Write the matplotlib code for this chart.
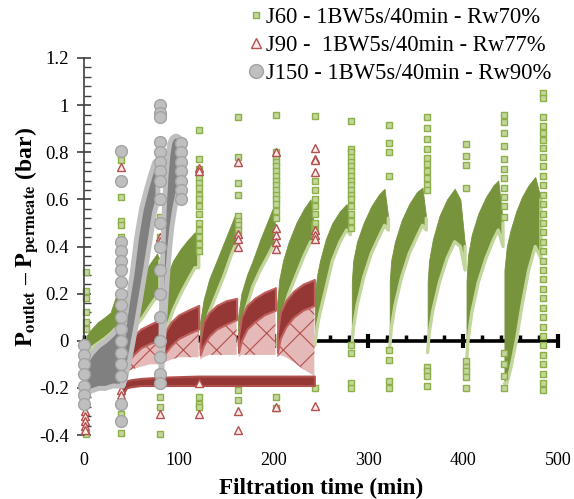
import matplotlib
matplotlib.use("Agg")
import matplotlib.pyplot as plt
from matplotlib.lines import Line2D
from matplotlib.ticker import MultipleLocator, FixedLocator, NullFormatter

plt.rcParams['font.family'] = ['Liberation Serif', 'DejaVu Serif']
plt.rcParams['mathtext.fontset'] = 'stix'
plt.rcParams['hatch.linewidth'] = 0.8

# ---------------- J60 (squares) ----------------
# filtration cycles: time points, lower and upper envelope of the dense cloud
j60_band_t = [
    [2.5, 8, 15, 22, 28, 33, 38, 40],
    [41.5, 44, 48, 54, 62, 70, 77, 80],
    [81.5, 84, 88, 94, 102, 110, 117, 121],
    [122.5, 126, 132, 140, 148, 155, 159, 161.5],
    [162.5, 166, 172, 178, 186, 194, 199, 202],
    [203.5, 206, 210, 216, 224, 232, 239, 242],
    [243.5, 246, 249, 255, 262, 270, 277, 281],
    [282.5, 284, 288, 295, 303, 311, 317, 321],
    [322.5, 324, 328, 335, 343, 351, 357, 361],
    [362.5, 364, 368, 375, 383, 391, 397, 402],
    [403.5, 405, 409, 416, 424, 432, 437, 442],
    [443.5, 446, 450, 456, 462, 469, 476, 482],
]
j60_band_lo = [
    [-0.05, -0.03, -0.01, 0.01, 0.03, 0.05, 0.06, 0.05],
    [-0.06, -0.02, 0.02, 0.06, 0.10, 0.15, 0.19, 0.19],
    [-0.05, 0.00, 0.06, 0.13, 0.20, 0.26, 0.31, 0.31],
    [-0.03, 0.03, 0.12, 0.20, 0.28, 0.36, 0.40, 0.40],
    [-0.02, 0.06, 0.15, 0.23, 0.30, 0.36, 0.40, 0.40],
    [-0.02, 0.05, 0.12, 0.20, 0.28, 0.36, 0.42, 0.42],
    [-0.02, 0.06, 0.12, 0.22, 0.34, 0.42, 0.47, 0.45],
    [-0.03, 0.05, 0.15, 0.27, 0.37, 0.44, 0.49, 0.47],
    [-0.03, 0.05, 0.15, 0.27, 0.37, 0.44, 0.49, 0.47],
    [-0.05, 0.03, 0.13, 0.25, 0.35, 0.42, 0.40, 0.30],
    [-0.10, 0.00, 0.12, 0.25, 0.35, 0.43, 0.47, 0.40],
    [-0.18, -0.18, -0.12, 0.00, 0.15, 0.30, 0.40, 0.35],
]
j60_band_hi = [
    [0.02, 0.05, 0.08, 0.10, 0.12, 0.18, 0.22, 0.20],
    [0.04, 0.12, 0.18, 0.23, 0.28, 0.33, 0.37, 0.34],
    [0.08, 0.20, 0.28, 0.34, 0.39, 0.43, 0.46, 0.42],
    [0.08, 0.17, 0.26, 0.34, 0.42, 0.49, 0.53, 0.45],
    [0.10, 0.20, 0.28, 0.34, 0.43, 0.51, 0.56, 0.48],
    [0.15, 0.26, 0.34, 0.42, 0.50, 0.56, 0.60, 0.50],
    [0.20, 0.28, 0.34, 0.43, 0.50, 0.55, 0.58, 0.48],
    [0.25, 0.34, 0.42, 0.50, 0.57, 0.62, 0.645, 0.52],
    [0.25, 0.34, 0.42, 0.51, 0.58, 0.63, 0.65, 0.52],
    [0.25, 0.34, 0.43, 0.53, 0.60, 0.645, 0.60, 0.40],
    [0.25, 0.36, 0.45, 0.54, 0.61, 0.66, 0.68, 0.50],
    [0.30, 0.40, 0.47, 0.55, 0.61, 0.66, 0.695, 0.60],
]
# isolated readings around each backwash
j60_bw_t = [2, 39.5, 80, 121, 162, 203, 243.5, 282, 322, 362, 403, 443, 484]
j60_bw_v = [
    [0.29, 0.21, 0.18, 0.12, 0.08, 0.05, -0.395],
    [0.766, 0.61, 0.51, 0.49, 0.44, -0.31, -0.39],
    [0.525, 0.49, 0.44, -0.24, -0.28, -0.396],
    [0.894, 0.77, 0.73, 0.71, 0.69, 0.67, 0.65, 0.62, 0.60, 0.57, 0.54, 0.50,
     0.47, 0.44, 0.41, 0.38, -0.24, -0.27, -0.28],
    [0.95, 0.78, 0.67, 0.62, 0.53, 0.51, 0.49, 0.47, 0.45, -0.21, -0.25],
    [0.96, 0.80, 0.78, 0.76, 0.74, 0.72, 0.70, 0.68, 0.66, 0.64, 0.62, 0.60,
     0.58, 0.55, 0.52, -0.24, -0.285],
    [0.953, 0.68, 0.64, 0.60, 0.57, 0.54, 0.50, 0.47, -0.20],
    [0.933, 0.815, 0.80, 0.78, 0.76, 0.74, 0.72, 0.70, 0.68, 0.66, 0.64, 0.62,
     0.60, 0.57, 0.54, 0.51, 0.48, -0.02, -0.05, -0.18, -0.20],
    [0.915, 0.84, 0.80, 0.70, -0.04, -0.08, -0.17, -0.20],
    [0.948, 0.903, 0.858, 0.815, 0.775, 0.75, 0.72, 0.69, 0.66, 0.64,
     -0.11, -0.13, -0.15, -0.19],
    [0.837, 0.783, 0.745, 0.65, -0.085, -0.11, -0.13, -0.155, -0.20],
    [0.96, 0.93, 0.88, 0.825, 0.77, 0.73, 0.69, 0.65, 0.61, 0.57, 0.525,
     -0.05, -0.10, -0.15, -0.20],
    [1.05, 1.03, 0.95, 0.91, 0.88, 0.85, 0.82, 0.78, 0.74, 0.70, 0.66, 0.62,
     0.58, 0.54, 0.50, 0.46, 0.42, 0.38, 0.34, 0.30, 0.26, 0.22, 0.18, 0.14,
     0.10, 0.06, 0.02, -0.02, -0.06, -0.10, -0.14, -0.18, -0.21],
]

# ---------------- J90 (triangles) ----------------
j90_band_t = [
    [42, 46, 52, 60, 70, 80],
    [82, 86, 92, 100, 110, 121],
    [122.5, 126, 132, 140, 150, 161],
    [163, 166, 172, 180, 190, 202],
    [204, 207, 213, 221, 231, 243],
]
j90_band_lo = [
    [-0.12, -0.09, -0.06, -0.03, -0.01, 0.00],
    [-0.08, -0.05, -0.02, 0.01, 0.03, 0.05],
    [-0.06, -0.02, 0.02, 0.05, 0.07, 0.09],
    [-0.05, 0.00, 0.05, 0.08, 0.11, 0.13],
    [-0.05, 0.01, 0.06, 0.10, 0.13, 0.15],
]
j90_band_hi = [
    [-0.05, -0.01, 0.02, 0.05, 0.07, 0.09],
    [-0.02, 0.04, 0.08, 0.11, 0.13, 0.15],
    [0.00, 0.08, 0.12, 0.15, 0.17, 0.18],
    [0.02, 0.10, 0.15, 0.18, 0.205, 0.225],
    [0.03, 0.12, 0.17, 0.21, 0.24, 0.26],
]
# bottom of the scattered readings under each cycle
j90_sparse_lo = [
    [-0.14, -0.13, -0.12, -0.11, -0.10, -0.10],
    [-0.10, -0.09, -0.08, -0.07, -0.07, -0.07],
    [-0.08, -0.07, -0.06, -0.06, -0.06, -0.06],
    [-0.07, -0.06, -0.06, -0.06, -0.06, -0.06],
    [-0.07, -0.06, -0.07, -0.09, -0.12, -0.15],
]
# flat lower plateau of the J90 readings
j90_low_t = [40.5, 42, 45, 50, 60, 80, 120, 160, 200, 243]
j90_low_lo = [-0.24, -0.22, -0.20, -0.195, -0.19, -0.19, -0.19, -0.19, -0.19, -0.19]
j90_low_hi = [-0.19, -0.18, -0.17, -0.165, -0.16, -0.155, -0.15, -0.15, -0.15, -0.15]
j90_bw_t = [1, 39.5, 80, 121, 162, 203, 243.5]
j90_bw_v = [
    [-0.30, -0.32, -0.34, -0.36, -0.38],
    [0.737, -0.21, -0.23],
    [0.44, 0.425, -0.31],
    [0.733, 0.72, -0.18, -0.31],
    [0.76, 0.455, 0.43, 0.40, -0.30, -0.38],
    [0.80, 0.48, 0.45, 0.42, 0.39, -0.28],
    [0.82, 0.77, 0.766, 0.716, 0.47, 0.45, 0.43, -0.277],
]

# ---------------- J150 (circles) ----------------
j150_band_t = [
    [0.5, 3, 8, 15, 22, 30, 36, 40],
    [40.5, 43, 46, 50, 55, 60, 65, 70, 74, 77.5],
    [80.5, 82, 84, 86, 88, 90, 92, 95, 98, 101.5],
]
j150_band_lo = [
    [-0.24, -0.22, -0.21, -0.20, -0.20, -0.19, -0.19, -0.19],
    [-0.19, -0.16, -0.11, -0.03, 0.08, 0.20, 0.32, 0.45, 0.55, 0.60],
    [-0.18, -0.10, 0.05, 0.18, 0.30, 0.40, 0.48, 0.56, 0.62, 0.64],
]
j150_band_hi = [
    [-0.12, -0.08, -0.05, -0.02, 0.00, 0.03, 0.06, 0.08],
    [0.00, 0.10, 0.18, 0.28, 0.44, 0.56, 0.64, 0.71, 0.76, 0.77],
    [0.00, 0.30, 0.55, 0.70, 0.79, 0.84, 0.86, 0.87, 0.87, 0.86],
]
j150_bw_t = [0.5, 39.5, 80, 102]
j150_bw_v = [
    [-0.02, -0.06, -0.10, -0.14, -0.19, -0.23, -0.27],
    [0.805, 0.678, 0.42, 0.38, 0.34, 0.30, 0.25, 0.20, 0.15, 0.10, 0.05, 0.00,
     -0.05, -0.10, -0.15, -0.27, -0.34],
    [1.00, 0.965, 0.95, 0.845, 0.80, 0.76, 0.72, 0.68, 0.60, 0.50, 0.40, 0.30,
     0.20, 0.10, 0.00, -0.07, -0.14, -0.18],
    [0.84, 0.80, 0.76, 0.72, 0.68, 0.64, 0.60],
]

labels = ['J60 - 1BW5s/40min - Rw70%',
          'J90 -  1BW5s/40min - Rw77%',
          'J150 - 1BW5s/40min - Rw90%']

G_DARK, G_FACE, G_EDGE = '#77933C', '#C3D69B', '#8DAF4A'
R_DARK, R_FACE, R_EDGE = '#953735', '#FBEAEA', '#B4504D'
K_DARK, K_FACE, K_EDGE = '#808080', '#BFBFBF', '#A3A3A3'

fig = plt.figure(figsize=(5.74, 4.99), dpi=100)
ax = fig.add_axes([84 / 574, 64 / 499, 474 / 574, 377 / 499])
ax.set_xlim(0, 500)
ax.set_ylim(-0.4, 1.2)


def draw_bands(ts, los, his, dark, face, lw, z):
    for t, lo, hi in zip(ts, los, his):
        ax.fill_between(t, lo, hi, facecolor=dark, edgecolor=face,
                        linewidth=lw, zorder=z, clip_on=False)


def draw_columns(ts, vs, marker, ms, face, edge, z):
    for t, v in zip(ts, vs):
        ax.plot([t] * len(v), v, ls='none', marker=marker, ms=ms, mfc=face,
                mec=edge, mew=1.0, zorder=z, clip_on=False)


# J60: dark cloud with a pale fringe on its lower/right side
for t, lo, hi in zip(j60_band_t, j60_band_lo, j60_band_hi):
    ax.fill_between(t, lo, hi, facecolor=G_DARK, edgecolor=G_DARK,
                    linewidth=0.6, zorder=2)
    ax.plot(t + [t[-1]], lo + [hi[-1]], color=G_FACE, lw=2.4,
            solid_capstyle='round', zorder=2.05)
draw_columns(j60_bw_t, j60_bw_v, 's', 4.2, G_FACE, G_EDGE, 2.2)

# J90
for t, lo, hi in zip(j90_band_t, j90_sparse_lo, j90_band_lo):
    ax.fill_between(t, lo, hi, facecolor='#E4B9B8', edgecolor='#B5504D',
                    hatch='x', linewidth=0.0, zorder=3)
draw_bands(j90_band_t, j90_band_lo, j90_band_hi, R_DARK, '#C0605D', 1.5, 3.1)
ax.fill_between(j90_low_t, j90_low_lo, j90_low_hi, facecolor=R_DARK,
                edgecolor='#B0504D', linewidth=1.5, zorder=3.1)
draw_columns(j90_bw_t, j90_bw_v, '^', 6.0, R_FACE, R_EDGE, 3.2)

# J150
draw_bands(j150_band_t, j150_band_lo, j150_band_hi, K_DARK, K_FACE, 3.5, 4)
draw_columns(j150_bw_t, j150_bw_v, 'o', 8.5, K_FACE, K_EDGE, 4.2)

# axes styling
for s in ('top', 'right', 'bottom'):
    ax.spines[s].set_visible(False)
ax.spines['left'].set_linewidth(1.2)
ax.spines['left'].set_color('#404040')

ax.yaxis.set_minor_locator(MultipleLocator(0.04))
ax.set_yticks([-0.4, -0.2, 0, 0.2, 0.4, 0.6, 0.8, 1.0, 1.2])
ax.set_yticklabels(['-0.4', '-0.2', '0', '0.2', '0.4', '0.6', '0.8', '1', '1.2'])
ax.tick_params(axis='y', which='major', direction='inout', length=10,
               width=1.2, color='#404040', labelsize=13.5, pad=6)
ax.tick_params(axis='y', which='minor', direction='in', length=5,
               width=1.0, color='#404040')

ax.set_xticks([0, 100, 200, 300, 400, 500])
ax.tick_params(axis='x', which='both', length=0, labelsize=13, pad=12)

# zero line carrying the time ticks
zero = ax.secondary_xaxis(0.25)
zero.spines['bottom'].set_linewidth(2.6)
zero.spines['top'].set_linewidth(2.6)
zero.xaxis.set_major_locator(FixedLocator([100, 200, 300, 400, 500]))
zero.xaxis.set_minor_locator(MultipleLocator(20))
zero.xaxis.set_major_formatter(NullFormatter())
zero.tick_params(which='major', direction='inout', length=10, width=3)
zero.tick_params(which='minor', direction='in', length=4, width=2.5)

ax.set_xlabel('Filtration time (min)', fontsize=16.7, fontweight='bold')
ax.xaxis.set_label_coords(0.5, -0.113)
ax.set_ylabel(r'$\mathbf{P_{outlet}}$ – $\mathbf{P_{permeate}}$ (bar)',
              fontsize=17, fontweight='bold')
ax.yaxis.set_label_coords(-0.092, 0.525)

handles = [
    Line2D([], [], ls='none', marker='s', ms=4.5, mfc=G_FACE, mec=G_EDGE),
    Line2D([], [], ls='none', marker='^', ms=7, mfc=R_FACE, mec=R_EDGE),
    Line2D([], [], ls='none', marker='o', ms=10, mfc=K_FACE, mec=K_EDGE),
]
fig.legend(handles, labels, loc='upper left', bbox_to_anchor=(247 / 574, 0.99),
           frameon=False, fontsize=16.3, handlelength=0.6, handletextpad=0.15,
           labelspacing=0.3, borderpad=0.1, borderaxespad=0.0)

fig.savefig('out.png', dpi=100)
